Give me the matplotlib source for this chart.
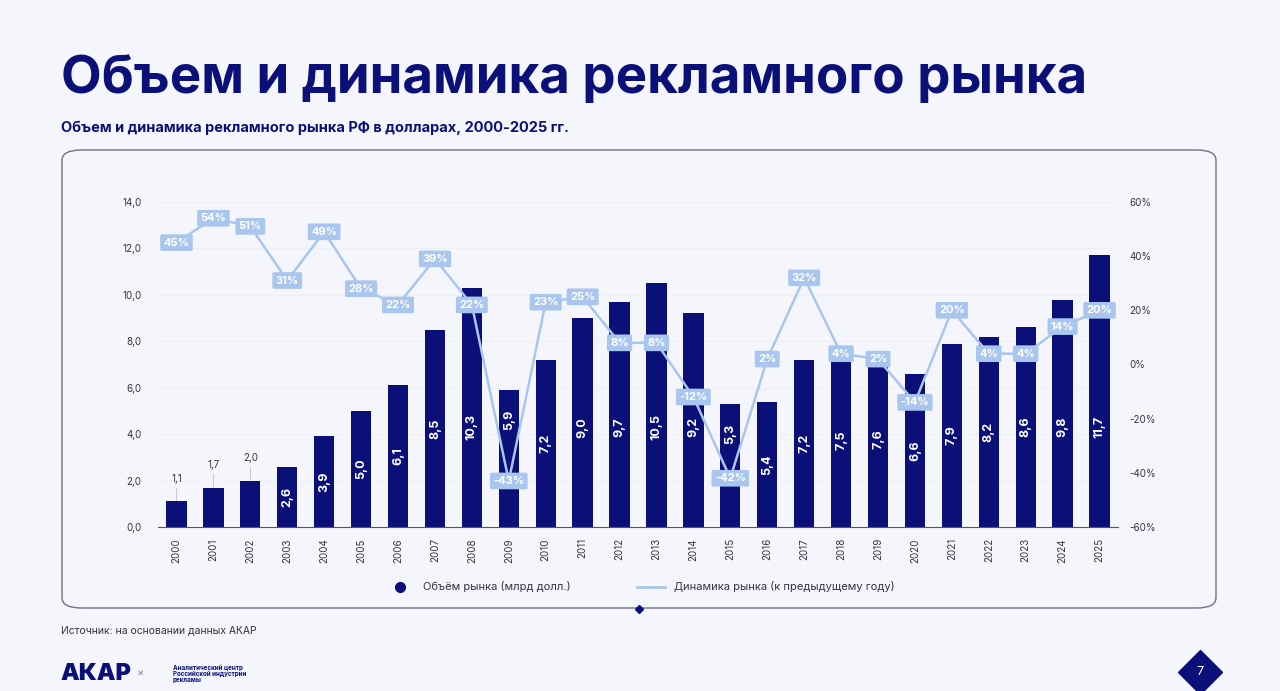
import matplotlib.pyplot as plt
from matplotlib.patches import FancyBboxPatch
from matplotlib.lines import Line2D
from matplotlib.ticker import FuncFormatter

plt.rcParams['font.family'] = ['Inter', 'DejaVu Sans']

NAVY = '#0B1078'
LIGHT = '#A9C6EE'
BG = '#F5F6FB'
GRAY = '#333344'

years = [str(y) for y in range(2000, 2026)]
volume = [1.1, 1.7, 2.0, 2.6, 3.9, 5.0, 6.1, 8.5, 10.3, 5.9, 7.2, 9.0, 9.7,
          10.5, 9.2, 5.3, 5.4, 7.2, 7.5, 7.6, 6.6, 7.9, 8.2, 8.6, 9.8, 11.7]
growth = [45, 54, 51, 31, 49, 28, 22, 39, 22, -43, 23, 25, 8, 8, -12, -42,
          2, 32, 4, 2, -14, 20, 4, 4, 14, 20]

fig = plt.figure(figsize=(12.8, 6.91), dpi=100, facecolor=BG)

fig.text(0.048, 0.885, 'Объем и динамика рекламного рынка', fontsize=38,
         fontweight='bold', color=NAVY, ha='left', va='center')
fig.text(0.048, 0.815, 'Объем и динамика рекламного рынка РФ в долларах, 2000-2025 гг.',
         fontsize=10.5, fontweight='bold', color=NAVY, ha='left', va='center')

# panel
fig.patches.append(FancyBboxPatch(
    (62 / 1280, 1 - 608 / 691), (1216 - 62) / 1280, (608 - 150) / 691,
    boxstyle='round,pad=0,rounding_size=0.015', transform=fig.transFigure,
    facecolor='none', edgecolor='#6E7088', linewidth=1.0, zorder=-1))
fig.add_artist(Line2D([639 / 1280], [1 - 609 / 691], marker='D', markersize=4,
                      color=NAVY, transform=fig.transFigure))

ax = fig.add_axes([158 / 1280, 1 - 527 / 691, (1118 - 158) / 1280, (527 - 202) / 691])
ax.set_facecolor('none')
x = list(range(len(years)))
ax.bar(x, volume, width=0.55, color=NAVY, zorder=2)
ax.set_xlim(-0.5, len(years) - 0.5)
ax.set_ylim(0, 14)
ax.set_yticks([0, 2, 4, 6, 8, 10, 12, 14])
ax.yaxis.set_major_formatter(FuncFormatter(lambda v, p: f'{v:.1f}'.replace('.', ',')))
ax.set_xticks(x)
ax.set_xticklabels(years, rotation=90, fontsize=7, color=GRAY)
ax.tick_params(axis='y', labelsize=7, colors=GRAY, length=0, pad=12)
ax.tick_params(axis='x', length=0, pad=8)
ax.grid(axis='y', color='#ECEEF4', linewidth=0.6, zorder=0)
for s in ['top', 'right', 'left']:
    ax.spines[s].set_visible(False)
ax.spines['bottom'].set_color('#555566')
ax.spines['bottom'].set_linewidth(0.8)

for i, v in enumerate(volume):
    lab = f'{v:.1f}'.replace('.', ',')
    if v < 2.5:
        ax.plot([i, i], [v, v + 0.6], color='#C8CAD8', lw=0.8, zorder=1)
        ax.text(i, v + 0.75, lab, ha='center', va='bottom', fontsize=7, color=GRAY)
    else:
        # keep the label clear of a low growth box
        ypos = v - 1.3 if growth[i] < -30 else min(v / 2, 4.3)
        ax.text(i, ypos, lab, ha='center', va='center', rotation=90, fontsize=9,
                fontweight='bold', color='white', zorder=3)

ax2 = ax.twinx()
ax2.set_ylim(-60, 60)
ax2.set_yticks([-60, -40, -20, 0, 20, 40, 60])
ax2.yaxis.set_major_formatter(FuncFormatter(lambda v, p: f'{v:.0f}%'))
ax2.tick_params(axis='y', labelsize=7, colors=GRAY, length=0, pad=8)
for s in ax2.spines.values():
    s.set_visible(False)
ax2.plot(x, growth, color=LIGHT, lw=1.8, zorder=4)
for i, g in enumerate(growth):
    ax2.text(i, g, f'{g}%', ha='center', va='center', fontsize=8, fontweight='bold',
             color='white', zorder=5,
             bbox=dict(boxstyle='round,pad=0.3,rounding_size=0.15', fc=LIGHT, ec='none'))

handles = [Line2D([], [], marker='o', ls='none', color=NAVY, markersize=7),
           Line2D([], [], color=LIGHT, lw=2)]
fig.legend(handles, ['Объём рынка (млрд долл.)', 'Динамика рынка (к предыдущему году)'],
           loc='center', bbox_to_anchor=(0.5, 1 - 587 / 691), ncol=2, frameon=False,
           fontsize=8, labelcolor=GRAY, columnspacing=6, handlelength=2.5)

fig.text(0.048, 1 - 630 / 691, 'Источник: на основании данных АКАР', fontsize=7.5,
         color=GRAY, ha='left', va='center')
fig.text(0.047, 1 - 674 / 691, 'АКАР', fontsize=17, fontweight='black', color=NAVY,
         ha='left', va='center')
fig.text(0.110, 1 - 674 / 691, '×', fontsize=8, color='#888899', ha='center', va='center')
fig.text(0.135, 1 - 674 / 691, 'Аналитический центр\nРоссийской индустрии\nрекламы',
         fontsize=4.5, fontweight='bold', color=NAVY, ha='left', va='center', linespacing=1.0)
fig.add_artist(Line2D([1200 / 1280], [1 - 672 / 691], marker='D', markersize=22,
                      color=NAVY, transform=fig.transFigure))
fig.text(1200 / 1280, 1 - 672 / 691, '7', fontsize=9, color='white', ha='center',
         va='center', zorder=6)

fig.savefig('out.png', dpi=100, facecolor=BG)
